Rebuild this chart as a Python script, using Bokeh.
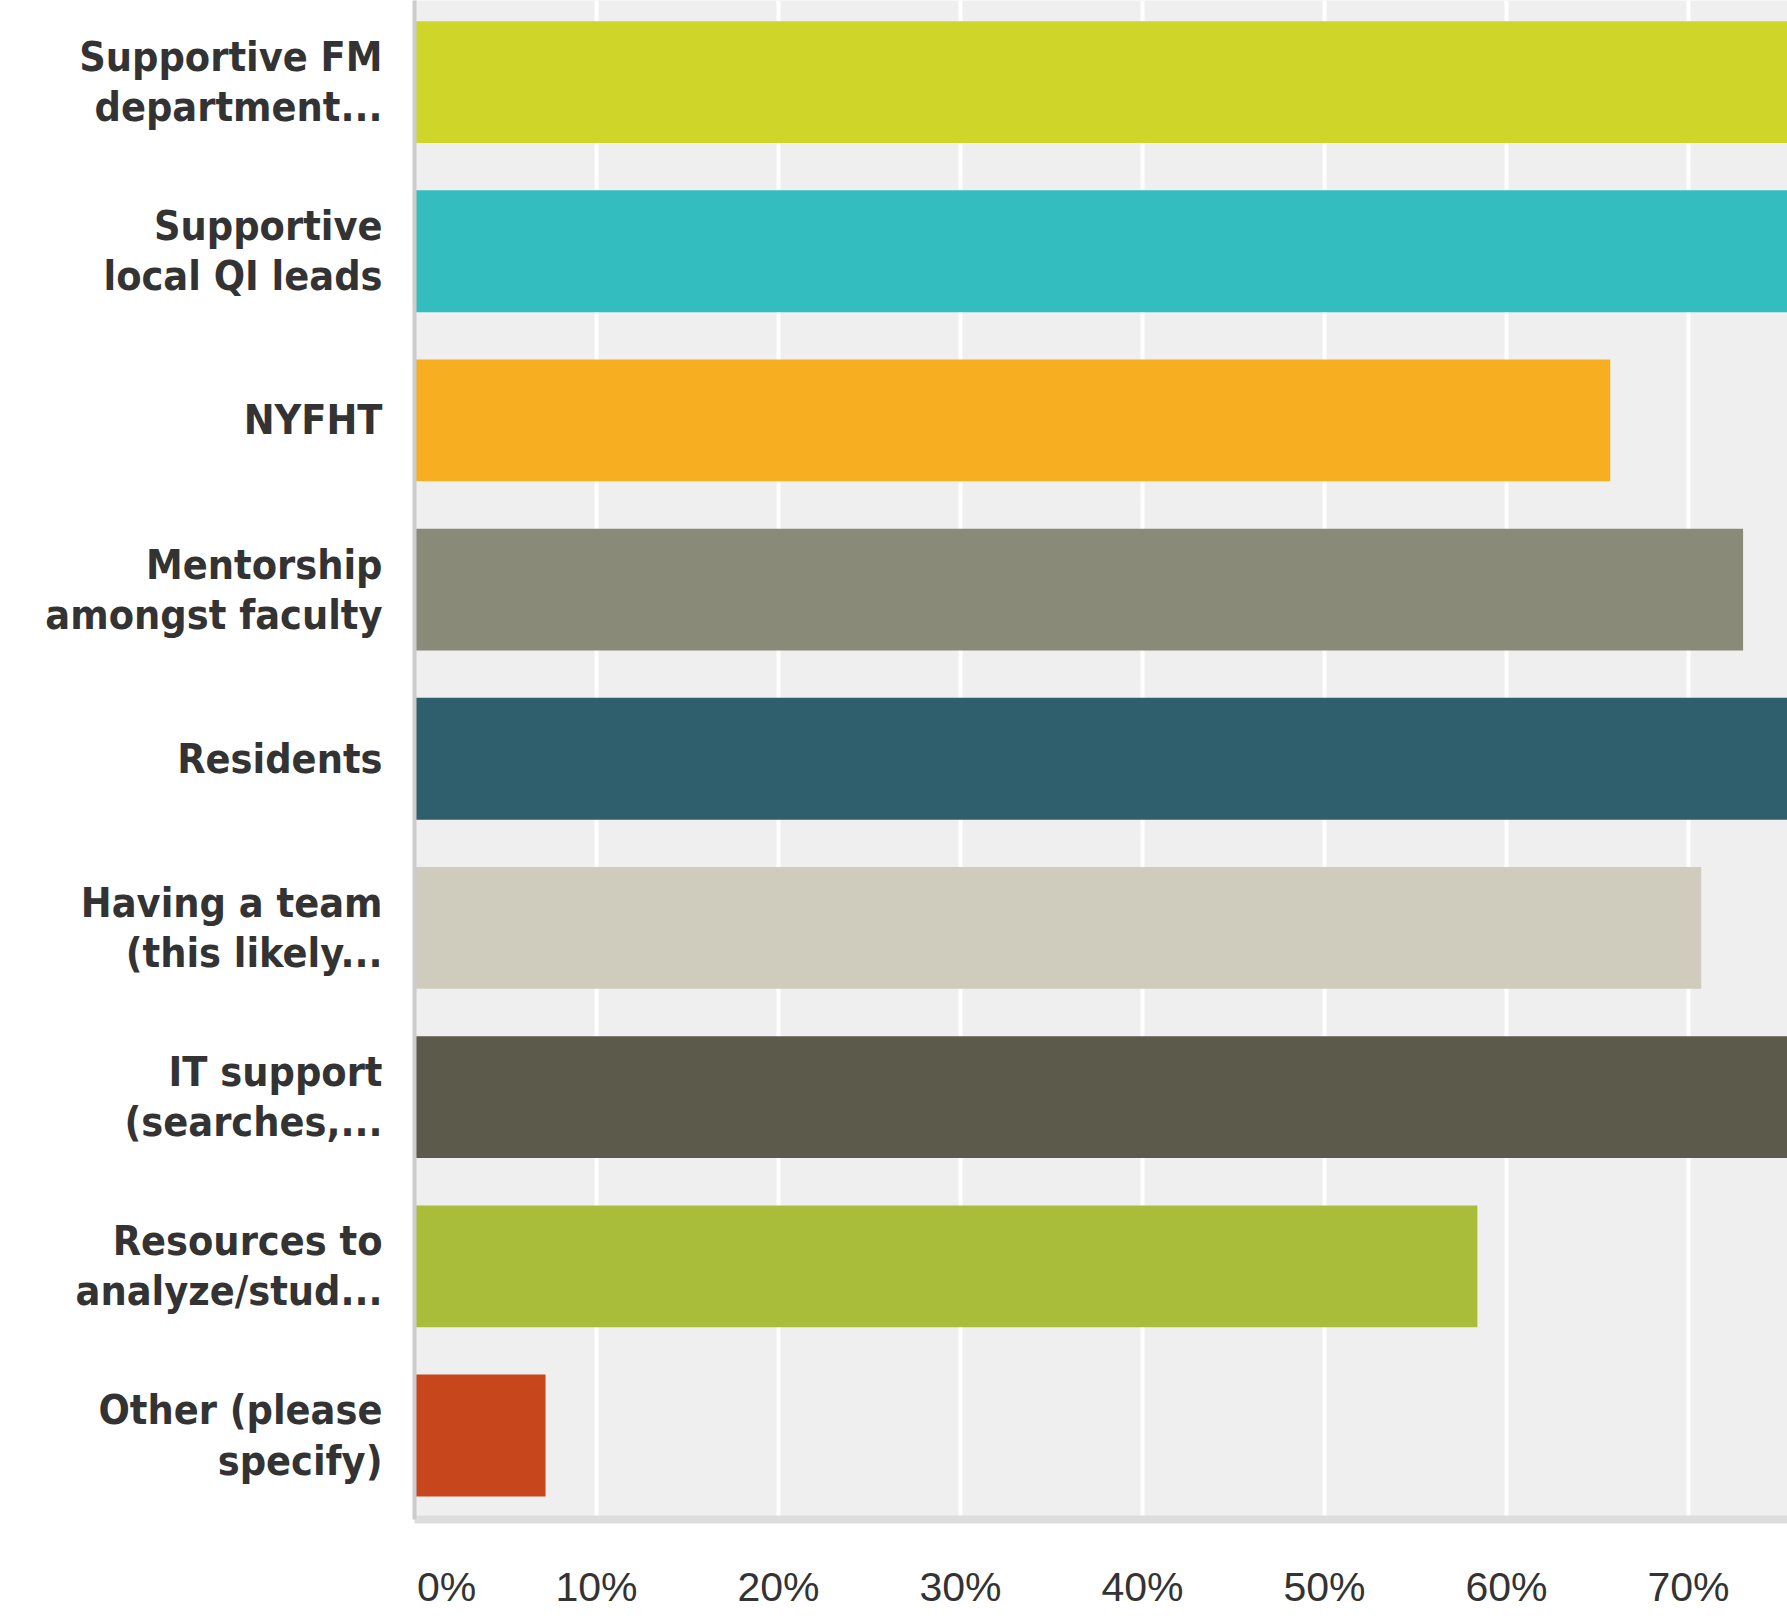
from bokeh.plotting import figure
from bokeh.models import Range1d, FixedTicker, ColumnDataSource
from bokeh.embed import file_html
from bokeh.resources import INLINE

# ---- data ----
categories = [
    "Supportive FM\ndepartment...",
    "Supportive\nlocal QI leads",
    "NYFHT",
    "Mentorship\namongst faculty",
    "Residents",
    "Having a team\n(this likely...",
    "IT support\n(searches,...",
    "Resources to\nanalyze/stud...",
    "Other (please\nspecify)",
]
values = [86.0, 79.0, 65.7, 73.0, 93.0, 70.7, 79.0, 58.4, 7.2]
colors = ["#cfd529", "#34bdbf", "#f7ae21", "#8a8a79", "#2f5f6d",
          "#cfccbd", "#5b5a4b", "#aabd3a", "#c8461c"]
tick_values = [0, 10, 20, 30, 40, 50, 60, 70, 80, 90, 100]
tick_labels = ["0%", "10%", "20%", "30%", "40%", "50%", "60%", "70%", "80%", "90%", "100%"]

n = len(categories)
ypos = [n - 1 - i for i in range(n)]

src = ColumnDataSource(dict(y=ypos, v=values, c=colors, name=categories))

p = figure(width=1787, height=1620, output_backend="svg", toolbar_location=None,
           x_range=Range1d(0, 75.44), y_range=Range1d(-0.4965, 8.482),
           min_border_left=414, min_border_right=0, min_border_top=0,
           min_border_bottom=101)
p.hbar(y="y", right="v", left=0, height=0.72, fill_color="c", line_color=None, source=src)

p.background_fill_color = "#efefef"
p.border_fill_color = "white"
p.outline_line_color = None

# grid
p.ygrid.grid_line_color = None
p.xgrid.ticker = FixedTicker(ticks=tick_values[1:])
p.xgrid.grid_line_color = "white"
p.xgrid.grid_line_width = 4

# x axis (first label nudged so it starts at the axis, as in the source)
first_pos = 1.76
p.xaxis.ticker = FixedTicker(ticks=[first_pos] + tick_values[1:])
overrides = {first_pos: tick_labels[0]}
for tv, tl in zip(tick_values[1:], tick_labels[1:]):
    overrides[tv] = tl
p.xaxis.major_label_overrides = overrides
p.xaxis.axis_line_color = "#dddddd"
p.xaxis.axis_line_width = 8
p.xaxis.major_tick_line_color = None
p.xaxis.minor_tick_line_color = None
p.xaxis.major_tick_out = 0
p.xaxis.major_tick_in = 0
p.xaxis.major_label_standoff = 44
p.xaxis.major_label_text_font = "Liberation Sans"
p.xaxis.major_label_text_font_size = "41px"
p.xaxis.major_label_text_color = "#333333"

# y axis
p.yaxis.ticker = FixedTicker(ticks=ypos)
p.yaxis.major_label_overrides = {y: name for y, name in zip(ypos, categories)}
p.yaxis.axis_line_color = "#cccccc"
p.yaxis.axis_line_width = 4
p.yaxis.major_tick_line_color = None
p.yaxis.minor_tick_line_color = None
p.yaxis.major_tick_out = 0
p.yaxis.major_tick_in = 0
p.yaxis.major_label_standoff = 32
p.yaxis.major_label_text_font = "DejaVu Sans Condensed"
p.yaxis.major_label_text_font_style = "bold"
p.yaxis.major_label_text_font_size = "41px"
p.yaxis.major_label_text_color = "#333333"
p.yaxis.major_label_text_line_height = 1.045

open("out.html", "w").write(file_html(p, INLINE))
